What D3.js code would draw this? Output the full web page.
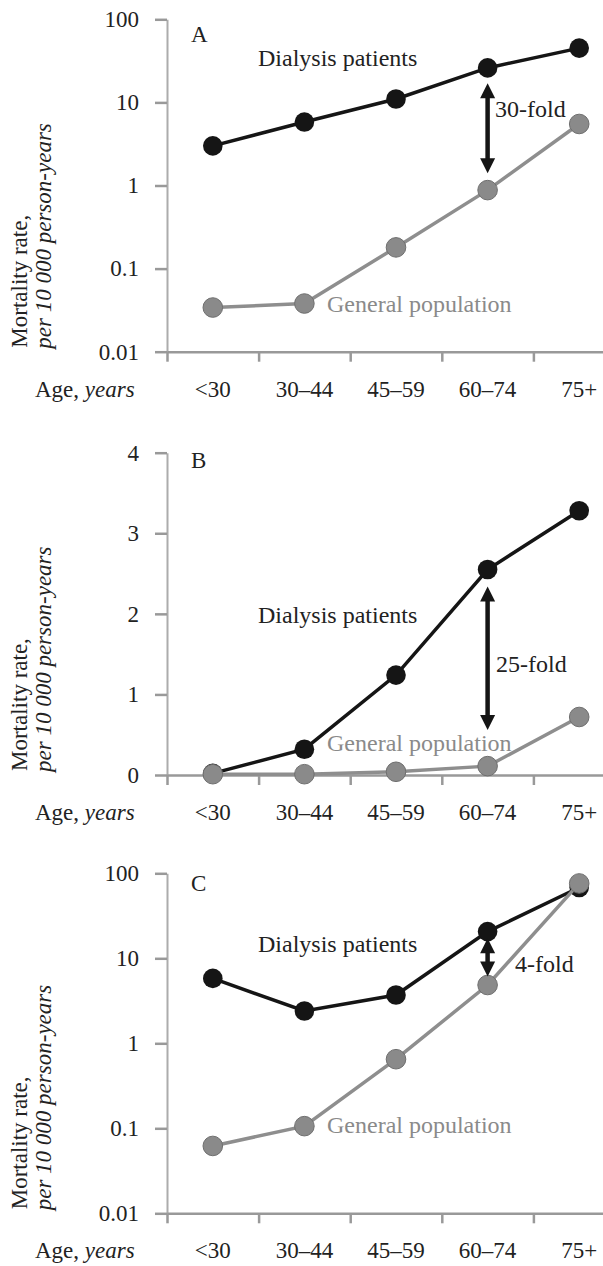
<!DOCTYPE html>
<html>
<head>
<meta charset="utf-8">
<script src="https://cdn.jsdelivr.net/npm/d3@7"></script>
<style>
  body { margin: 0; background: #fff; }
  svg text { font-family: "Liberation Serif", "Times New Roman", serif; }
</style>
</head>
<body>
<div id="chart"></div>
<script>
// Categories and values
const ageGroups = ["<30", "30–44", "45–59", "60–74", "75+"];

const dialysisA = [3.0, 5.8, 11, 26, 45];
const generalA  = [0.034, 0.038, 0.18, 0.88, 5.5];
const dialysisB = [0.02, 0.32, 1.24, 2.55, 3.28];
const generalB  = [0.01, 0.01, 0.04, 0.11, 0.72];
const dialysisC = [5.8, 2.4, 3.7, 20.6, 68];
const generalC  = [0.062, 0.106, 0.65, 4.85, 76];

const logTicks = [0.01, 0.1, 1, 10, 100];
const linTicks = [0, 1, 2, 3, 4];

// fold arrows: [top value, bottom value] at 60–74
const arrowA = [17, 1.4];
const arrowB = [2.34, 0.56];
const arrowC = [17.2, 6.1];
const foldLabels = ["30-fold", "25-fold", "4-fold"];
const panelLetters = ["A", "B", "C"];

const W = 603, H = 1266;
const axisX = 167;
const serif = "Liberation Serif";

const svg = d3.select("#chart").append("svg")
  .attr("width", W)
  .attr("height", H);

const x = d3.scaleBand().domain(ageGroups).range([axisX, 625]).padding(0);
const xEdge = d3.scaleLinear().domain([0, ageGroups.length]).range([axisX, 625]);
const cx = d => x(d) + x.bandwidth() / 2;

const panels = [
  { letter: panelLetters[0], log: true, top: 19.3, bottom: 351.7,
    dialysis: dialysisA, general: generalA, arrow: arrowA, fold: foldLabels[0],
    letterY: 41.7, dialY: 65.7, genX: 327, genY: 312, foldX: 495, foldY: 117 },
  { letter: panelLetters[1], log: false, top: 452.7, bottom: 775,
    dialysis: dialysisB, general: generalB, arrow: arrowB, fold: foldLabels[1],
    letterY: 468, dialY: 623, genX: 327, genY: 751, foldX: 496, foldY: 672 },
  { letter: panelLetters[2], log: true, top: 873.3, bottom: 1213.3,
    dialysis: dialysisC, general: generalC, arrow: arrowC, fold: foldLabels[2],
    letterY: 890.7, dialY: 951.7, genX: 327, genY: 1133.3, foldX: 515, foldY: 971.7 }
];

panels.forEach(p => drawPanel(p));

function drawPanel(p) {
  const g = svg.append("g").attr("font-family", serif);
  const y = p.log
    ? d3.scaleLog().domain([0.01, 100]).range([p.bottom, p.top])
    : d3.scaleLinear().domain([0, 4]).range([p.bottom, p.top]);

  // y axis
  const yAxis = g.append("g")
    .attr("transform", `translate(${axisX},0)`)
    .call(d3.axisLeft(y)
      .tickValues(p.log ? logTicks : linTicks)
      .tickFormat(d => String(d))
      .tickSize(12)
      .tickSizeOuter(0)
      .tickPadding(16));
  yAxis.attr("font-family", serif);
  yAxis.select(".domain").attr("stroke", "#acacac").attr("stroke-width", 2);
  yAxis.selectAll(".tick line").attr("stroke", "#999").attr("stroke-width", 2.5);
  yAxis.selectAll(".tick text")
    .attr("font-size", 23)
    .attr("fill", "#222");

  // x axis
  const xAxis = g.append("g")
    .attr("transform", `translate(0,${p.bottom})`)
    .call(d3.axisBottom(xEdge)
      .tickValues(d3.range(ageGroups.length + 1))
      .tickFormat("")
      .tickSize(10)
      .tickSizeOuter(0));
  xAxis.select(".domain").attr("stroke", "#999").attr("stroke-width", 2.5);
  xAxis.selectAll(".tick line").attr("stroke", "#999").attr("stroke-width", 2.5);

  // category labels
  g.selectAll("text.cat")
    .data(ageGroups)
    .enter().append("text")
    .attr("class", "cat")
    .attr("x", d => cx(d))
    .attr("y", p.bottom + 45)
    .attr("text-anchor", "middle")
    .attr("font-size", 23)
    .attr("fill", "#222")
    .text(d => d);

  const ageLab = g.append("text")
    .attr("x", 35)
    .attr("y", p.bottom + 45)
    .attr("font-size", 23)
    .attr("fill", "#222");
  ageLab.append("tspan").text("Age, ");
  ageLab.append("tspan").attr("font-style", "italic").text("years");

  // y title, both lines start near the bottom of the axis
  g.append("text")
    .attr("transform", `translate(27,${p.bottom - 4}) rotate(-90)`)
    .attr("font-size", 23)
    .attr("fill", "#222")
    .text("Mortality rate,");
  g.append("text")
    .attr("transform", `translate(51,${p.bottom - 3}) rotate(-90)`)
    .attr("font-size", 23)
    .attr("font-style", "italic")
    .attr("fill", "#222")
    .text("per 10 000 person-years");

  // lines
  const line = vals => d3.line()
    .x((d, i) => cx(ageGroups[i]))
    .y(d => y(d))(vals);

  g.append("path")
    .attr("d", line(p.dialysis))
    .attr("fill", "none")
    .attr("stroke", "#151515")
    .attr("stroke-width", 3.5);
  g.selectAll("circle.dial")
    .data(p.dialysis)
    .enter().append("circle")
    .attr("class", "dial")
    .attr("cx", (d, i) => cx(ageGroups[i]))
    .attr("cy", d => y(d))
    .attr("r", 9.8)
    .attr("fill", "#151515");

  g.append("path")
    .attr("d", line(p.general))
    .attr("fill", "none")
    .attr("stroke", "#8e8e8e")
    .attr("stroke-width", 3.5);
  g.selectAll("circle.gen")
    .data(p.general)
    .enter().append("circle")
    .attr("class", "gen")
    .attr("cx", (d, i) => cx(ageGroups[i]))
    .attr("cy", d => y(d))
    .attr("r", 9.8)
    .attr("fill", "#8a8a8a")
    .attr("stroke", "#6f6f6f")
    .attr("stroke-width", 1);

  // fold arrow
  const ax = cx("60–74");
  const y1 = y(p.arrow[0]), y2 = y(p.arrow[1]);
  const hl = 15, hw = 7.5;
  g.append("line")
    .attr("x1", ax).attr("x2", ax)
    .attr("y1", y1 + hl - 1).attr("y2", y2 - hl + 1)
    .attr("stroke", "#151515")
    .attr("stroke-width", 4.5);
  g.append("path")
    .attr("d", `M${ax},${y1} L${ax - hw},${y1 + hl} L${ax + hw},${y1 + hl} Z`)
    .attr("fill", "#151515");
  g.append("path")
    .attr("d", `M${ax},${y2} L${ax - hw},${y2 - hl} L${ax + hw},${y2 - hl} Z`)
    .attr("fill", "#151515");

  // annotations
  g.append("text")
    .attr("x", 191).attr("y", p.letterY)
    .attr("font-size", 23).attr("fill", "#222")
    .text(p.letter);
  g.append("text")
    .attr("x", 258).attr("y", p.dialY)
    .attr("font-size", 24).attr("fill", "#222")
    .text("Dialysis patients");
  g.append("text")
    .attr("x", p.genX).attr("y", p.genY)
    .attr("font-size", 24).attr("fill", "#8a8a8a")
    .text("General population");
  g.append("text")
    .attr("x", p.foldX).attr("y", p.foldY)
    .attr("font-size", 24).attr("fill", "#222")
    .text(p.fold);
}
</script>
</body>
</html>
